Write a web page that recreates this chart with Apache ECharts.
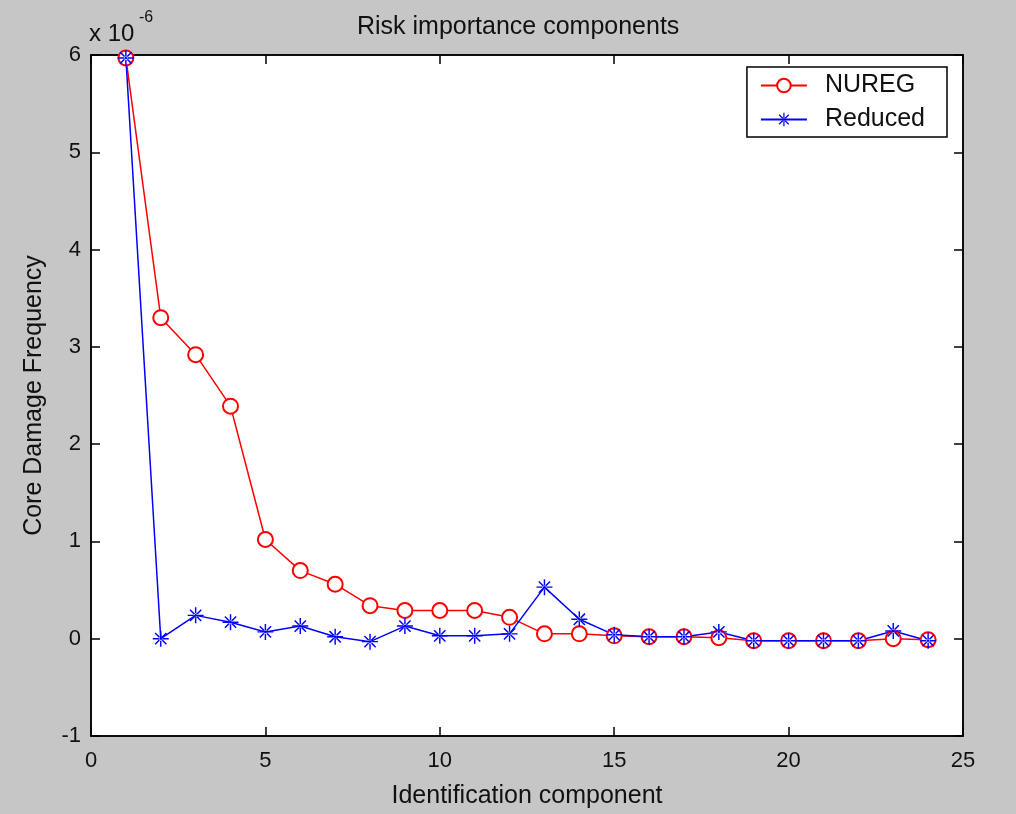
<!DOCTYPE html>
<html lang="en">
<head>
    <meta charset="utf-8" />
    <title>Risk importance components</title>
    <script type="text/javascript" src="https://cdn.jsdelivr.net/npm/echarts@6/dist/echarts.min.js"></script>
    <style type="text/css">
        body { margin: 0; background: #c6c6c6; }
    </style>
</head>
<body>
    <div id="main" style="width:1016px;height:814px;"></div>
    <script type="text/javascript">
        var ids = [1, 2, 3, 4, 5, 6, 7, 8, 9, 10, 11, 12, 13, 14, 15, 16, 17, 18, 19, 20, 21, 22, 23, 24];
        // values in units of 1e-6
        var nureg = [5.97, 3.30, 2.92, 2.39, 1.02, 0.70, 0.56, 0.34, 0.29, 0.29, 0.29, 0.22, 0.05, 0.05, 0.03, 0.02, 0.02, 0.01, -0.02, -0.02, -0.02, -0.02, 0.0, -0.01];
        var reduced = [5.97, 0.00, 0.24, 0.17, 0.07, 0.13, 0.02, -0.03, 0.13, 0.03, 0.03, 0.05, 0.53, 0.20, 0.04, 0.02, 0.02, 0.07, -0.02, -0.02, -0.02, -0.02, 0.08, -0.02];
        var yTicks = [-1, 6, 1];   // min, max, step
        var xTicks = [0, 25, 5];

        var star = 'path://M-0.9,-10L0.9,-10L0.9,10L-0.9,10Z M-10,-0.9L10,-0.9L10,0.9L-10,0.9Z M-7.7,-6.4L-6.4,-7.7L7.7,6.4L6.4,7.7Z M6.4,-7.7L7.7,-6.4L-6.4,7.7L-7.7,6.4Z M-2.5,0A2.5,2.5,0,1,0,2.5,0A2.5,2.5,0,1,0,-2.5,0Z';

        function pairs(vals) {
            var out = [];
            for (var i = 0; i < ids.length; i++) out.push([ids[i], vals[i]]);
            return out;
        }

        var font = 'Liberation Sans, Arial, sans-serif';
        var myChart = echarts.init(document.getElementById('main'));

        function axisStyle(extra) {
            var a = {
                axisLine: { onZero: false, lineStyle: { color: '#000', width: 1.5 } },
                axisTick: { inside: true, length: 9, lineStyle: { color: '#000', width: 1.5 } },
                splitLine: { show: false }
            };
            for (var k in extra) a[k] = extra[k];
            return a;
        }

        var option = {
            backgroundColor: '#c6c6c6',
            animation: false,
            title: {
                text: 'Risk importance components',
                left: 352, top: 10,
                textStyle: { fontFamily: font, fontSize: 25, fontWeight: 'normal', color: '#111' }
            },
            graphic: [{
                type: 'text', left: 89, top: 22,
                style: { text: 'x 10', font: '24px ' + font, fill: '#111' }
            }, {
                type: 'text', left: 139, top: 10,
                style: { text: '-6', font: '16px ' + font, fill: '#111' }
            }],
            legend: {
                orient: 'vertical',
                right: 69, top: 67,
                backgroundColor: '#fff',
                borderColor: '#000', borderWidth: 1.5, borderRadius: 0,
                padding: [6, 22, 5, 13],
                itemWidth: 46, itemHeight: 17, itemGap: 9,
                textStyle: { fontFamily: font, fontSize: 25, color: '#111', padding: [0, 0, 0, 13] },
                data: ['NUREG', 'Reduced']
            },
            grid: { left: 91, right: 53, top: 55, bottom: 76, show: true, backgroundColor: '#fff', borderColor: '#000', borderWidth: 1.5 },
            xAxis: [axisStyle({
                type: 'value', min: xTicks[0], max: xTicks[1], interval: xTicks[2],
                name: 'Identification component', nameLocation: 'middle', nameGap: 48,
                nameTextStyle: { fontFamily: font, fontSize: 25, color: '#111' },
                axisLabel: { fontFamily: font, fontSize: 22, color: '#111', margin: 14 }
            }), axisStyle({
                type: 'value', position: 'top', min: xTicks[0], max: xTicks[1], interval: xTicks[2],
                axisLabel: { show: false }
            })],
            yAxis: [axisStyle({
                type: 'value', min: yTicks[0], max: yTicks[1], interval: yTicks[2],
                name: 'Core Damage Frequency', nameLocation: 'middle', nameGap: 44,
                nameTextStyle: { fontFamily: font, fontSize: 25, color: '#111' },
                axisLabel: { fontFamily: font, fontSize: 22, color: '#111', margin: 10 }
            }), axisStyle({
                type: 'value', position: 'right', min: yTicks[0], max: yTicks[1], interval: yTicks[2],
                axisLabel: { show: false }
            })],
            series: [{
                name: 'NUREG', type: 'line',
                data: pairs(nureg),
                symbol: 'emptyCircle', symbolSize: 15,
                lineStyle: { color: '#ff0000', width: 1.5 },
                itemStyle: { color: '#ff0000', borderColor: '#ff0000', borderWidth: 1.5 }
            }, {
                name: 'Reduced', type: 'line',
                data: pairs(reduced),
                symbol: star, symbolSize: 16,
                lineStyle: { color: '#0000ff', width: 1.5 },
                itemStyle: { color: '#0000ff' }
            }]
        };
        myChart.setOption(option);
    </script>
</body>
</html>
